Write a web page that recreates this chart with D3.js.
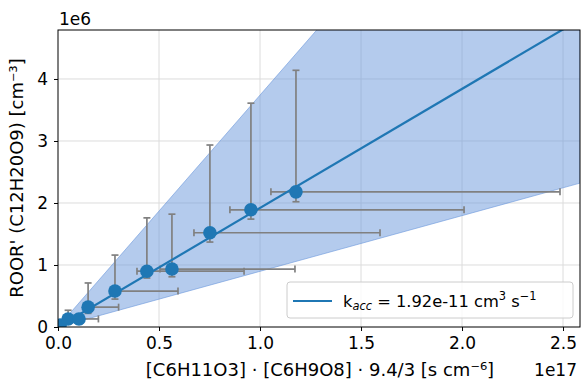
<!DOCTYPE html>
<html>
<head>
<meta charset="utf-8">
<script src="https://cdn.jsdelivr.net/npm/d3@7"></script>
<style>
  body { margin: 0; background: #fff; }
  svg text { font-family: "DejaVu Sans", sans-serif; fill: #000; }
</style>
</head>
<body>
<div class="container"></div>
<script>
// measured points (x in 1e17 s cm^-6, y in 1e6 cm^-3)
var xVals = [0.01, 0.05, 0.104, 0.149, 0.282, 0.44, 0.564, 0.752, 0.955, 1.178];
var yVals = [0.03, 0.13, 0.13, 0.32, 0.58, 0.90, 0.935, 1.52, 1.89, 2.18];
// error bar ends
var xLow  = [0.0, 0.03, 0.08, 0.13, 0.267, 0.391, 0.505, 0.673, 0.851, 1.054];
var xHigh = [0.02, 0.10, 0.20, 0.30, 0.594, 0.921, 1.173, 1.594, 2.01, 2.485];
var yLow  = [0.0, 0.05, 0.05, 0.22, 0.45, 0.79, 0.81, 1.37, 1.74, 2.02];
var yHigh = [0.06, 0.27, 0.20, 0.71, 1.16, 1.76, 1.82, 2.935, 3.61, 4.14];
// fit slope and its range
var kFit = 1.92e-11, kUpper = 3.74e-11, kLower = 8.98e-12;
var xTicks = [0, 0.5, 1.0, 1.5, 2.0, 2.5];
var yTicks = [0, 1, 2, 3, 4];

var width = 582, height = 381;
var margin = { left: 58, right: 2, top: 30, bottom: 54 };
var fs = 17, labelFs = 18, legendFs = 16.3;

var svg = d3.select('div.container').append('svg')
  .attr('width', width).attr('height', height);

var x = d3.scaleLinear().domain([0, 2.584]).range([margin.left, width - margin.right]);
var y = d3.scaleLinear().domain([0, 4.79]).range([height - margin.bottom, margin.top]);

// slope in plot units: y(1e6) = k * x(1e17) * 1e17 / 1e6
var scaleK = function(k) { return k * 1e11; };

svg.append('clipPath').attr('id', 'clip').append('rect')
  .attr('x', x.range()[0]).attr('y', y.range()[1])
  .attr('width', x.range()[1] - x.range()[0])
  .attr('height', y.range()[0] - y.range()[1]);

// grid
svg.append('g').selectAll('line').data(xTicks.slice(1)).enter().append('line')
  .attr('x1', function(d) { return x(d); }).attr('x2', function(d) { return x(d); })
  .attr('y1', y.range()[0]).attr('y2', y.range()[1])
  .attr('stroke', '#dcdcdc').attr('stroke-width', 1);
svg.append('g').selectAll('line').data(yTicks.slice(1)).enter().append('line')
  .attr('y1', function(d) { return y(d); }).attr('y2', function(d) { return y(d); })
  .attr('x1', x.range()[0]).attr('x2', x.range()[1])
  .attr('stroke', '#dcdcdc').attr('stroke-width', 1);

var plot = svg.append('g').attr('clip-path', 'url(#clip)');

// uncertainty band
var xEnd = x.domain()[1];
var band = [[0, 0], [xEnd, scaleK(kUpper) * xEnd], [xEnd, scaleK(kLower) * xEnd]];
plot.append('path')
  .attr('d', d3.line().x(function(d) { return x(d[0]); }).y(function(d) { return y(d[1]); })(band) + 'Z')
  .attr('fill', '#6a97dc').attr('fill-opacity', 0.5)
  .attr('stroke', '#6a97dc').attr('stroke-opacity', 0.6).attr('stroke-width', 1);

// error bars
var ebColor = '#808080', cap = 3.5;
var eb = plot.append('g').attr('stroke', ebColor).attr('stroke-width', 1.7);
xVals.forEach(function(xv, i) {
  var cx = x(xv), cy = y(yVals[i]);
  eb.append('line').attr('x1', cx).attr('x2', cx).attr('y1', y(yLow[i])).attr('y2', y(yHigh[i]));
  eb.append('line').attr('x1', x(xLow[i])).attr('x2', x(xHigh[i])).attr('y1', cy).attr('y2', cy);
  [y(yLow[i]), y(yHigh[i])].forEach(function(py) {
    eb.append('line').attr('x1', cx - cap).attr('x2', cx + cap).attr('y1', py).attr('y2', py);
  });
  [x(xLow[i]), x(xHigh[i])].forEach(function(px) {
    eb.append('line').attr('x1', px).attr('x2', px).attr('y1', cy - cap).attr('y2', cy + cap);
  });
});

// fit line
plot.append('line')
  .attr('x1', x(0)).attr('y1', y(0))
  .attr('x2', x(xEnd)).attr('y2', y(scaleK(kFit) * xEnd))
  .attr('stroke', '#1f77b4').attr('stroke-width', 2.2);

// points
svg.append('g').attr('clip-path', 'url(#clip)').selectAll('circle').data(xVals).enter().append('circle')
  .attr('cx', function(d) { return x(d); })
  .attr('cy', function(d, i) { return y(yVals[i]); })
  .attr('r', 6.8).attr('fill', '#1f77b4');

// axes
var xAxis = svg.append('g').attr('transform', 'translate(0,' + y.range()[0] + ')')
  .call(d3.axisBottom(x).tickValues(xTicks).tickFormat(d3.format('.1f')).tickSize(4).tickPadding(6));
var yAxis = svg.append('g').attr('transform', 'translate(' + x.range()[0] + ',0)')
  .call(d3.axisLeft(y).tickValues(yTicks).tickFormat(d3.format('d')).tickSize(4).tickPadding(6));
[xAxis, yAxis].forEach(function(a) {
  a.select('.domain').remove();
  a.selectAll('text').attr('font-size', fs).attr('font-family', 'DejaVu Sans');
  a.selectAll('line').attr('stroke', '#000').attr('stroke-width', 1);
});

// frame
svg.append('rect')
  .attr('x', x.range()[0]).attr('y', y.range()[1])
  .attr('width', x.range()[1] - x.range()[0])
  .attr('height', y.range()[0] - y.range()[1])
  .attr('fill', 'none').attr('stroke', '#000').attr('stroke-width', 1);

// offset labels
svg.append('text').attr('x', x.range()[0] + 1).attr('y', 25).attr('font-size', fs).text('1e6');
svg.append('text').attr('x', 577).attr('y', 376).attr('font-size', fs)
  .attr('text-anchor', 'end').text('1e17');

// axis labels
svg.append('text').attr('x', 320).attr('y', 376)
  .attr('font-size', labelFs).attr('text-anchor', 'middle')
  .text('[C6H11O3] \u00b7 [C6H9O8] \u00b7 9.4/3 [s cm\u207b\u2076]');
svg.append('text')
  .attr('transform', 'translate(23,' + 178 + ') rotate(-90)')
  .attr('font-size', labelFs).attr('text-anchor', 'middle')
  .text('ROOR\' (C12H20O9) [cm\u207b\u00b3]');

// legend
var lg = svg.append('g');
lg.append('rect').attr('x', 287).attr('y', 282).attr('width', 286).attr('height', 36)
  .attr('rx', 3).attr('fill', '#fff').attr('fill-opacity', 0.8)
  .attr('stroke', '#cccccc').attr('stroke-width', 1);
lg.append('line').attr('x1', 293).attr('x2', 332).attr('y1', 301).attr('y2', 301)
  .attr('stroke', '#1f77b4').attr('stroke-width', 2.2);
var lt = lg.append('text').attr('x', 343).attr('y', 307).attr('font-size', legendFs);
lt.append('tspan').text('k');
lt.append('tspan').attr('font-style', 'italic').attr('font-size', legendFs * 0.7).attr('dy', 3).text('acc');
lt.append('tspan').attr('dy', -3).text(' = 1.92e-11 cm');
lt.append('tspan').attr('font-size', legendFs * 0.7).attr('dy', -7).text('3');
lt.append('tspan').attr('dy', 7).text(' s');
lt.append('tspan').attr('font-size', legendFs * 0.7).attr('dy', -7).text('\u22121');
</script>
</body>
</html>
